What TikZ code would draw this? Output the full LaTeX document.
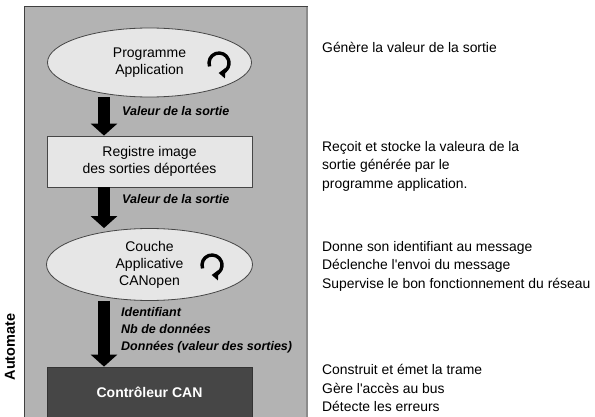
\documentclass[tikz,border=0pt]{standalone}
\usepackage{fontspec}
\setmainfont{Liberation Sans}
\usetikzlibrary{arrows.meta,shapes.geometric,calc}
\definecolor{panelgray}{RGB}{179,179,179}
\definecolor{lightfill}{RGB}{230,230,230}
\definecolor{darkfill}{RGB}{70,70,70}
\definecolor{edgegray}{RGB}{70,70,70}
\begin{document}
\begin{tikzpicture}[x=1pt,y=1pt,
  boxtext/.style={font=\fontsize{14}{17}\selectfont, align=center, inner sep=0pt},
  ellipsebox/.style={boxtext, ellipse, draw=edgegray, line width=0.8pt, fill=lightfill},
  regbox/.style={boxtext, rectangle, draw=edgegray, line width=0.8pt, fill=lightfill},
  canbox/.style={rectangle, draw=black!80, line width=0.8pt, fill=darkfill, text=white,
    font=\bfseries\fontsize{14}{17}\selectfont, inner sep=0pt},
  bigarrow/.style={line width=12.5pt, -{Triangle[width=26pt,length=12pt]}, black},
  lbl/.style={font=\bfseries\itshape\fontsize{12.5}{17}\selectfont, align=left, inner sep=0pt},
  desc/.style={font=\fontsize{13.9}{18.5}\selectfont, align=left, inner sep=0pt, anchor=west},
  looparrow/.style={line width=3.4pt, -{Triangle[width=10pt,length=6.5pt]}, black}
]
\useasboundingbox (0,0) rectangle (595,-417);
\clip (0,0) rectangle (595,-417);
% panel
\node[rectangle, fill=panelgray, minimum width=284, minimum height=412, anchor=north west, inner sep=0pt] (panel) at (24,-7) {};
\draw[line width=1pt, black!75] (panel.south west) -- (panel.north west) -- (panel.north east);
\draw[line width=2.5pt, black!45] ($(panel.north east)+(-1.25,0)$) -- ($(panel.south east)+(-1.25,0)$);
% nodes
\node[ellipsebox, minimum width=204, minimum height=69] (e1) at (149.5,-62.5) {Programme\\Application};
\node[regbox, minimum width=205, minimum height=51] (reg) at (149.5,-161.5) {Registre image\\des sorties déportées};
\node[ellipsebox, minimum width=206, minimum height=72] (e2) at (149.5,-264.5) {Couche\\Applicative\\CANopen};
\node[canbox, minimum width=205, minimum height=50] (can) at (149.5,-392) {Contrôleur CAN};
% loop arrows
\draw[looparrow] (219,-63) ++(200:10) arc[start angle=200, end angle=-92, radius=10];
\draw[looparrow] (212,-265) ++(200:10) arc[start angle=200, end angle=-92, radius=10];
% big arrows
\coordinate (ax) at (104,0);
\draw[bigarrow] (ax |- e1.south) -- (ax |- reg.north);
\draw[bigarrow] (ax |- reg.south) -- (ax |- e2.north);
\draw[bigarrow] (ax |- e2.south) -- (ax |- can.north);
% arrow labels
\node[lbl, anchor=west] (l1) at (122,-111) {Valeur de la sortie};
\node[lbl, anchor=west] (l2) at (122,-199) {Valeur de la sortie};
\node[lbl, anchor=west] (l3) at (121,-330) {Identifiant\\Nb de données\\Données (valeur des sorties)};
% side label
\node[rotate=90, font=\bfseries\fontsize{14.5}{17}\selectfont, inner sep=0pt] (auto) at (10,-347) {Automate};
% descriptions
\node[desc] (d1) at (322,-47) {Génère la valeur de la sortie};
\node[desc] (d2) at (322,-166) {Reçoit et stocke la valeura de la\\sortie générée par le\\programme application.};
\node[desc] (d3) at (322,-266) {Donne son identifiant au message\\Déclenche l\textquotesingle envoi du message\\Supervise le bon fonctionnement du réseau};
\node[desc] (d4) at (322,-388) {Construit et émet la trame\\Gère l\textquotesingle accès au bus\\Détecte les erreurs};
\end{tikzpicture}
\end{document}
